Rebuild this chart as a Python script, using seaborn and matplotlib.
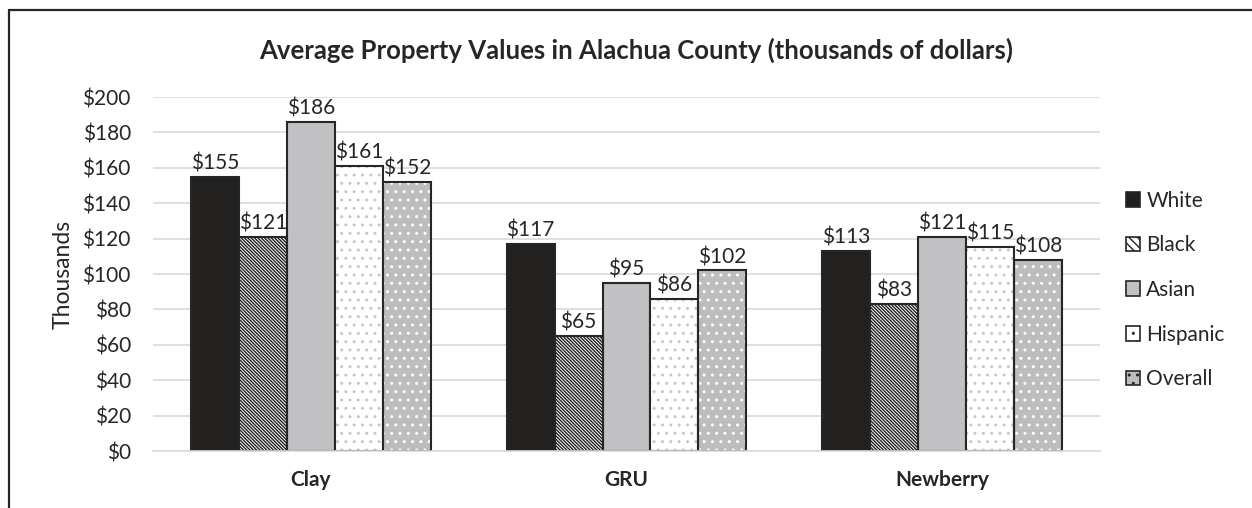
import pandas as pd
import matplotlib.pyplot as plt
import seaborn as sns
from matplotlib.patches import Rectangle, Patch
from matplotlib.lines import Line2D

# Data (thousands of dollars)
regions = ["Clay", "GRU", "Newberry"]
groups = ["White", "Black", "Asian", "Hispanic", "Overall"]
white = [155, 117, 113]
black = [121, 65, 83]
asian = [186, 95, 121]
hispanic = [161, 86, 115]
overall = [152, 102, 108]

df = pd.DataFrame({
    "Region": regions * 5,
    "Group": [g for g in groups for _ in regions],
    "Value": white + black + asian + hispanic + overall,
})

sns.set_theme(style="white")
plt.rcParams["font.family"] = ["Lato", "DejaVu Sans"]
plt.rcParams["hatch.linewidth"] = 1.0

face = {"White": "#231F20", "Black": "white", "Asian": "#C1C1C3",
        "Hispanic": "white", "Overall": "#BDBDBD"}
hatches = {"White": "", "Black": "\\" * 10, "Asian": "",
           "Hispanic": "..", "Overall": ".."}
hatch_col = {"Black": "#231F20", "Hispanic": "#C8C8C8", "Overall": "white"}
edge = "#262626"
text_col = "#262626"
fs = 15

fig = plt.figure(figsize=(12.52, 5.08), dpi=100)
ax = fig.add_axes([0.1222, 0.1122, 0.7564, 0.6968])

sns.barplot(data=df, x="Region", y="Value", hue="Group", order=regions,
            hue_order=groups, palette=face, errorbar=None, width=0.76,
            edgecolor=edge, linewidth=1.5, legend=False, ax=ax)

for g, cont in zip(groups, ax.containers):
    for p in cont.patches:
        if hatches[g]:
            p.set_hatch(hatches[g])
            p.set_edgecolor(hatch_col[g])
            p.set_linewidth(0)
            ax.add_patch(Rectangle(p.get_xy(), p.get_width(), p.get_height(),
                                   fill=False, edgecolor=edge, linewidth=1.5,
                                   zorder=p.get_zorder() + 0.1))
    ax.bar_label(cont, labels=[f"${v:.0f}" for v in cont.datavalues],
                 padding=2.5, fontsize=fs, color=text_col)

ax.set_ylim(0, 200)
ax.set_xlim(-0.5, 2.5)
ax.set_yticks(range(0, 201, 20))
ax.set_yticklabels([f"${v}" for v in range(0, 201, 20)])
ax.yaxis.grid(True, color="#D9D9D9", linewidth=1.2)
ax.set_axisbelow(True)
for s in ["top", "right", "left"]:
    ax.spines[s].set_visible(False)
ax.spines["bottom"].set_color("#D9D9D9")
ax.spines["bottom"].set_linewidth(1.2)
ax.tick_params(axis="y", length=0, pad=16, labelsize=fs, labelcolor=text_col)
ax.tick_params(axis="x", length=0, pad=14, labelsize=fs, labelcolor=text_col)
for t in ax.get_xticklabels():
    t.set_fontweight("bold")
ax.set_xlabel("")
ax.set_ylabel("Thousands", fontsize=16.5, color=text_col, labelpad=6)

fig.text(0.508, 0.9016, "Average Property Values in Alachua County (thousands of dollars)",
         ha="center", va="center", fontsize=18.5, fontweight="bold", color=text_col)

handles = [Patch(facecolor=face[g], edgecolor=edge, linewidth=1.2,
                 hatch=hatches[g][:4]) for g in groups]
fig.legend(handles, groups, loc="center left", bbox_to_anchor=(0.884, 0.429),
           frameon=False, fontsize=fs, handlelength=0.7, handleheight=0.7,
           handletextpad=0.3, labelspacing=1.18, labelcolor=text_col)

# chart frame (cropped at right and bottom in the reference)
fig.add_artist(Line2D([9 / 1252, 9 / 1252], [0, 1 - 10 / 508], color="#262626",
                      linewidth=1.6, transform=fig.transFigure))
fig.add_artist(Line2D([9 / 1252, 1], [1 - 10 / 508, 1 - 10 / 508], color="#262626",
                      linewidth=1.6, transform=fig.transFigure))

fig.savefig("out.png", dpi=100)
